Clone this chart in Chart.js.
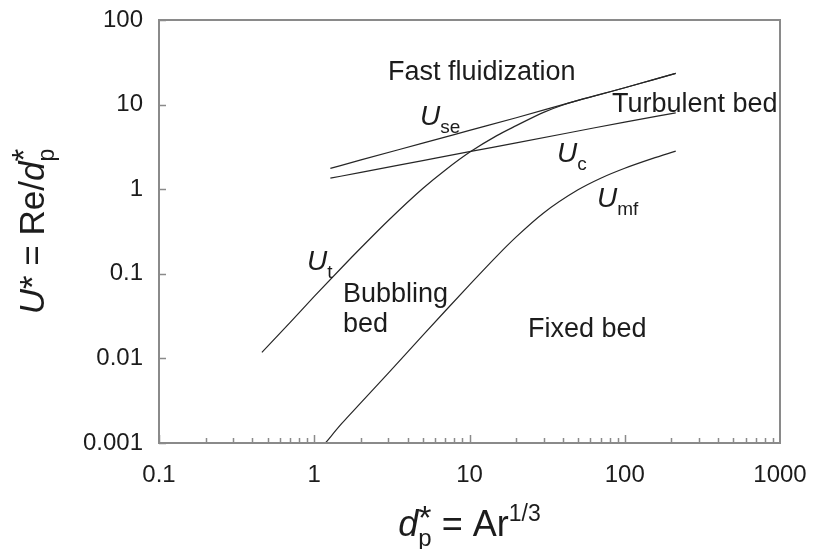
<!DOCTYPE html>
<html>
<head>
<meta charset="utf-8">
<script src="https://cdn.jsdelivr.net/npm/chart.js@4"></script>
<style>
  html, body { margin: 0; background: #fff; }
  #wrap { width: 813px; height: 549px; }
</style>
</head>
<body>
<div id="wrap"><canvas id="regimeChart"></canvas></div>
<script>
// axis ticks
const xTicks = [0.1, 1, 10, 100, 1000];
const yTicks = [0.001, 0.01, 0.1, 1, 10, 100];

// terminal velocity U_t
const dpUt = [0.46, 0.7, 1, 1.5, 2, 3, 5, 7, 10, 15, 20, 30, 40, 50, 100, 150, 213];
const ut = [0.0118, 0.0267, 0.054, 0.118, 0.203, 0.427, 1.02, 1.69, 2.73, 4.30, 5.64, 8.1, 9.9, 11.2, 15.8, 19.5, 23.4];

// minimum fluidization U_mf
const dpUmf = [1.18, 1.5, 2, 3, 5, 7, 10, 15, 20, 30, 50, 70, 100, 150, 213];
const umf = [0.001, 0.00169, 0.003, 0.0067, 0.0187, 0.0366, 0.074, 0.162, 0.273, 0.524, 0.984, 1.35, 1.77, 2.30, 2.82];

// regime transitions U_c and U_se
const dpTrans = [1.27, 2, 5, 10, 20, 50, 100, 213];
const uc = [1.35, 1.58, 2.18, 2.78, 3.53, 4.87, 6.22, 8.0];
const use = [1.76, 2.22, 3.5, 4.95, 7.0, 11.2, 15.8, 23.4];

// region names and curve names (data coords of text anchor/baseline)
const regionText = [
  { text: 'Fast fluidization', x: 12.0, y: 19.5, align: 'center' },
  { text: 'Turbulent bed', x: 82.8, y: 8.18, align: 'left' },
  { text: 'Bubbling', x: 1.53, y: 0.0464, align: 'left' },
  { text: 'bed', x: 1.53, y: 0.0205, align: 'left' },
  { text: 'Fixed bed', x: 23.8, y: 0.0179, align: 'left' }
];
const curveText = [
  { sub: 'se', x: 4.8, y: 5.74 },
  { sub: 'c', x: 36.6, y: 2.10 },
  { sub: 'mf', x: 66.3, y: 0.616 },
  { sub: 't', x: 0.897, y: 0.111 }
];

const FONT = "'Liberation Sans', Arial, sans-serif";
const INK = '#1c1c1c';
const AXIS = '#8a8a8a';

function pts(xs, ys) {
  return xs.map((x, i) => ({ x: x, y: ys[i] }));
}

function font(size, italic) {
  return (italic ? 'italic ' : '') + size + 'px ' + FONT;
}

// draws a run of text pieces left to right; a piece may stack two parts
function drawRun(ctx, x, y, parts) {
  let cx = x;
  parts.forEach(p => {
    const list = p.stack || [p];
    let w = 0;
    list.forEach(q => {
      ctx.font = font(q.size, q.italic);
      ctx.fillText(q.t, cx, y + (q.dy || 0));
      w = Math.max(w, ctx.measureText(q.t).width);
    });
    cx += w;
  });
  return cx - x;
}

function runWidth(ctx, parts) {
  let w = 0;
  parts.forEach(p => {
    const list = p.stack || [p];
    let m = 0;
    list.forEach(q => {
      ctx.font = font(q.size, q.italic);
      m = Math.max(m, ctx.measureText(q.t).width);
    });
    w += m;
  });
  return w;
}

const framePlugin = {
  id: 'frame',
  afterDraw(chart) {
    const ctx = chart.ctx;
    const a = chart.chartArea;
    const sx = chart.scales.x;
    const sy = chart.scales.y;
    ctx.save();

    // box
    ctx.strokeStyle = AXIS;
    ctx.lineWidth = 2;
    ctx.strokeRect(a.left, a.top, a.right - a.left, a.bottom - a.top);

    // inward ticks
    ctx.lineWidth = 1.5;
    ctx.beginPath();
    for (let d = 0.1; d < 1000; d *= 10) {
      for (let m = 1; m <= 9; m++) {
        const px = Math.round(sx.getPixelForValue(m * d)) + 0.5;
        const len = m === 1 ? 8 : 5;
        ctx.moveTo(px, a.bottom);
        ctx.lineTo(px, a.bottom - len);
      }
    }
    yTicks.forEach(v => {
      const py = Math.round(sy.getPixelForValue(v)) + 0.5;
      ctx.moveTo(a.left, py);
      ctx.lineTo(a.left + 7, py);
    });
    ctx.stroke();

    ctx.fillStyle = INK;
    ctx.textBaseline = 'alphabetic';

    // region names
    regionText.forEach(r => {
      ctx.font = font(27, false);
      ctx.textAlign = r.align;
      ctx.fillText(r.text, sx.getPixelForValue(r.x), sy.getPixelForValue(r.y));
    });
    ctx.textAlign = 'left';

    // curve names
    curveText.forEach(c => {
      drawRun(ctx, sx.getPixelForValue(c.x), sy.getPixelForValue(c.y), [
        { t: 'U', size: 28, italic: true },
        { t: c.sub, size: 19, dy: 8 }
      ]);
    });

    // x axis title
    const xParts = [
      { t: 'd', size: 36, italic: true },
      { stack: [{ t: 'p', size: 24, dy: 10 }, { t: '*', size: 34, dy: -7 }] },
      { t: ' = Ar', size: 36 },
      { t: '1/3', size: 23, dy: -15 }
    ];
    const xw = runWidth(ctx, xParts);
    drawRun(ctx, (a.left + a.right) / 2 - xw / 2, 536, xParts);

    // y axis title
    const yParts = [
      { t: 'U', size: 35, italic: true },
      { t: '* = Re/', size: 35 },
      { t: 'd', size: 35, italic: true },
      { stack: [{ t: 'p', size: 23, dy: 10 }, { t: '*', size: 33, dy: -9 }] }
    ];
    const yw = runWidth(ctx, yParts);
    ctx.translate(44, (a.top + a.bottom) / 2);
    ctx.rotate(-Math.PI / 2);
    drawRun(ctx, -yw / 2, 0, yParts);

    ctx.restore();
  }
};

const lineStyle = {
  borderColor: '#262626',
  borderWidth: 1.2,
  pointRadius: 0,
  fill: false,
  cubicInterpolationMode: 'monotone'
};

new Chart(document.getElementById('regimeChart'), {
  type: 'line',
  data: {
    datasets: [
      Object.assign({ label: 'Ut', data: pts(dpUt, ut) }, lineStyle),
      Object.assign({ label: 'Umf', data: pts(dpUmf, umf) }, lineStyle),
      Object.assign({ label: 'Uc', data: pts(dpTrans, uc) }, lineStyle),
      Object.assign({ label: 'Use', data: pts(dpTrans, use) }, lineStyle)
    ]
  },
  options: {
    responsive: true,
    maintainAspectRatio: false,
    animation: false,
    layout: { padding: { top: 20, right: 33, left: 0, bottom: 0 } },
    plugins: {
      legend: { display: false },
      tooltip: { enabled: false }
    },
    scales: {
      x: {
        type: 'logarithmic',
        min: 0.1,
        max: 1000,
        afterBuildTicks: s => { s.ticks = xTicks.map(v => ({ value: v })); },
        afterFit: s => { s.height = 106; s.paddingLeft = 0; s.paddingRight = 0; },
        grid: { display: false, drawTicks: false },
        border: { display: false },
        ticks: {
          padding: 18,
          maxRotation: 0,
          autoSkip: false,
          color: INK,
          font: { family: FONT, size: 24 },
          callback: v => String(v)
        }
      },
      y: {
        type: 'logarithmic',
        min: 0.001,
        max: 100,
        afterBuildTicks: s => { s.ticks = yTicks.map(v => ({ value: v })); },
        afterFit: s => { s.width = 159; s.paddingTop = 0; s.paddingBottom = 0; },
        grid: { display: false, drawTicks: false },
        border: { display: false },
        ticks: {
          padding: 16,
          autoSkip: false,
          color: INK,
          font: { family: FONT, size: 24 },
          callback: v => String(v)
        }
      }
    }
  },
  plugins: [framePlugin]
});
</script>
</body>
</html>
